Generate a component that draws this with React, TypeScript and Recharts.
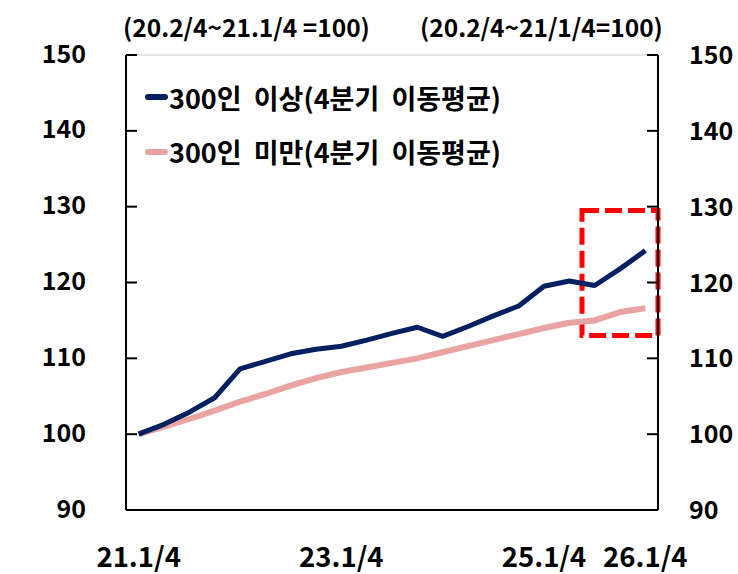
import React from 'react';
import { LineChart, Line, XAxis, YAxis, CartesianGrid, Legend, ReferenceLine, ReferenceArea } from 'recharts';

const quarters = [
  '21.1/4', '21.2/4', '21.3/4', '21.4/4',
  '22.1/4', '22.2/4', '22.3/4', '22.4/4',
  '23.1/4', '23.2/4', '23.3/4', '23.4/4',
  '24.1/4', '24.2/4', '24.3/4', '24.4/4',
  '25.1/4', '25.2/4', '25.3/4', '25.4/4',
  '26.1/4',
];
const large = [100.0, 101.3, 102.9, 104.8, 108.6, 109.6, 110.6, 111.2, 111.6, 112.4, 113.3, 114.1, 112.9, 114.2, 115.6, 116.9, 119.5, 120.2, 119.6, 121.8, 124.2];
const small = [100.0, 101.0, 102.0, 103.1, 104.3, 105.3, 106.4, 107.4, 108.2, 108.8, 109.4, 110.0, 110.8, 111.6, 112.4, 113.2, 114.0, 114.7, 115.0, 116.1, 116.6];
const yTicks = [90, 100, 110, 120, 130, 140, 150];
const xLabels = ['21.1/4', '23.1/4', '25.1/4', '26.1/4'];
const yearStarts = ['22.1/4', '23.1/4', '24.1/4', '25.1/4', '26.1/4'];
const legendOrder = ['large', 'small'];

const data = quarters.map((q, i) => ({ q, large: large[i], small: small[i] }));

const FONT = '"Noto Sans CJK KR", "Noto Sans", sans-serif';
const NAVY = '#002060';
const PINK = '#E9A3A3';
const GRID = '#C9C9C9';

const LeftTick = (props: any) => {
  const { x, y, payload } = props;
  return (
    <g>
      <line x1={x + 40} x2={x + 51} y1={y} y2={y} stroke="#000" strokeWidth={2} />
      <text x={x} y={y} dy="0.3em" textAnchor="end" fontSize={25} fontWeight={700} fontFamily={FONT} fill="#000">
        {payload.value}
      </text>
    </g>
  );
};

const RightTick = (props: any) => {
  const { x, y, payload } = props;
  return (
    <g>
      <line x1={x - 31} x2={x - 42} y1={y} y2={y} stroke="#000" strokeWidth={2} />
      <text x={x} y={y} dy="0.36em" textAnchor="start" fontSize={25} fontWeight={700} fontFamily={FONT} fill="#000">
        {payload.value}
      </text>
    </g>
  );
};

const BottomTick = (props: any) => {
  const { x, y, payload } = props;
  if (!xLabels.includes(payload.value)) return null;
  return (
    <text x={x} y={y} dy="0.71em" textAnchor="middle" fontSize={27.5} fontWeight={700} fontFamily={FONT} fill="#000">
      {payload.value}
    </text>
  );
};

const LegendBox = (props: any) => {
  const items = [...(props.payload || [])].sort(
    (a: any, b: any) => legendOrder.indexOf(a.dataKey) - legendOrder.indexOf(b.dataKey)
  );
  return (
    <div style={{ fontFamily: FONT }}>
      {items.map((p: any) => (
        <div key={p.value} style={{ display: 'flex', alignItems: 'center', height: 54.5 }}>
          <span style={{ display: 'inline-block', width: 23, height: 6, borderRadius: 3, background: p.color, marginRight: 1 }} />
          <span style={{ fontSize: 27, fontWeight: 700, color: '#000', whiteSpace: 'pre', wordSpacing: 6 }}>{p.value}</span>
        </div>
      ))}
    </div>
  );
};

const noteStyle: React.CSSProperties = {
  position: 'absolute',
  top: 10,
  fontFamily: FONT,
  fontSize: 24.5,
  fontWeight: 700,
  whiteSpace: 'pre',
  lineHeight: '34px',
};

export default function App() {
  return (
    <div style={{ position: 'absolute', left: 0, top: 0, width: 738, height: 574, background: '#fff' }}>
      <div style={{ ...noteStyle, left: 123 }}>(20.2/4~21.1/4 =100)</div>
      <div style={{ ...noteStyle, left: 420 }}>(20.2/4~21/1/4=100)</div>
      <LineChart width={738} height={574} data={data} margin={{ top: 55, right: 0, bottom: 0, left: 0 }}>
        <CartesianGrid vertical={false} stroke={GRID} strokeWidth={1.2} />
        {yearStarts.map((q) => (
          <ReferenceLine key={q} x={q} position="start" stroke={GRID} strokeWidth={1.2} />
        ))}
        <XAxis
          dataKey="q"
          scale="band"
          interval={0}
          tickSize={0}
          tickMargin={37}
          height={64}
          axisLine={{ stroke: '#000', strokeWidth: 2 }}
          tick={<BottomTick />}
        />
        <YAxis
          yAxisId="left"
          domain={[90, 150]}
          ticks={yTicks}
          width={126}
          tickSize={0}
          tickMargin={40}
          axisLine={{ stroke: '#000', strokeWidth: 2 }}
          tick={<LeftTick />}
        />
        <YAxis
          yAxisId="right"
          orientation="right"
          domain={[90, 150]}
          ticks={yTicks}
          width={80}
          tickSize={0}
          tickMargin={31}
          axisLine={{ stroke: '#000', strokeWidth: 2 }}
          tick={<RightTick />}
        />
        <Legend
          layout="vertical"
          align="center"
          verticalAlign="middle"
          wrapperStyle={{ left: 145, top: 70, width: 'auto' }}
          content={<LegendBox />}
        />
        <Line
          yAxisId="right"
          dataKey="small"
          name="300인 미만(4분기 이동평균)"
          stroke={PINK}
          strokeWidth={6}
          dot={false}
          strokeLinejoin="round"
          isAnimationActive={false}
        />
        <Line
          yAxisId="left"
          dataKey="large"
          name="300인 이상(4분기 이동평균)"
          stroke={NAVY}
          strokeWidth={5}
          dot={false}
          strokeLinejoin="round"
          isAnimationActive={false}
        />
        <ReferenceArea
          yAxisId="left"
          x1="25.3/4"
          x2="26.1/4"
          y1={113.0}
          y2={129.5}
          fill="none"
          fillOpacity={0}
          stroke="#FF0000"
          strokeWidth={5}
          strokeDasharray="17 6"
          ifOverflow="visible"
        />
      </LineChart>
    </div>
  );
}
